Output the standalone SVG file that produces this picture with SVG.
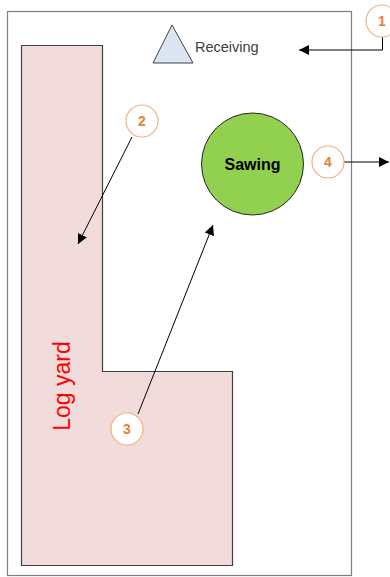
<svg xmlns="http://www.w3.org/2000/svg" width="390" height="577" viewBox="0 0 390 577">
  <style>
    .frame { fill: #ffffff; stroke: #7f7f7f; stroke-width: 1.2; }
    .yard { fill: #f2dcdb; stroke: #404040; stroke-width: 1.2; }
    .num { fill: #ffffff; stroke: #f4b183; stroke-width: 1.2; }
    .numtxt { font-family: "Liberation Sans", Arial, sans-serif; font-size: 14px; font-weight: bold; fill: #ed7d31; text-anchor: middle; }
    .conn { stroke: #000000; stroke-width: 1; fill: none; marker-end: url(#arrow); }
  </style>
  <defs>
    <marker id="arrow" viewBox="0 0 10 10" refX="10" refY="5" markerWidth="10" markerHeight="10" markerUnits="userSpaceOnUse" orient="auto">
      <path d="M0,0 L10,5 L0,10 z" fill="#000000"/>
    </marker>
  </defs>

  <!-- site boundary -->
  <rect class="frame" x="7.5" y="11.5" width="344" height="564"/>

  <!-- log yard -->
  <g id="log-yard">
    <polygon class="yard" points="21.5,45.5 102.5,45.5 102.5,371.5 232.5,371.5 232.5,565.5 21.5,565.5"/>
    <text x="0" y="0" transform="translate(70,386) rotate(-90)" font-family="Liberation Sans, Arial, sans-serif" font-size="23" fill="#ff0000" text-anchor="middle">Log yard</text>
  </g>

  <!-- receiving -->
  <g id="receiving">
    <polygon points="172,25 153,63 193,63" fill="#dce6f2" stroke="#404040" stroke-width="1"/>
    <text x="195" y="52" font-family="Liberation Sans, Arial, sans-serif" font-size="14.5" fill="#404040">Receiving</text>
  </g>

  <!-- sawing -->
  <g id="sawing">
    <circle cx="252.5" cy="164" r="51" fill="#92d050" stroke="#262626" stroke-width="1"/>
    <text x="252.5" y="169.5" font-family="Liberation Sans, Arial, sans-serif" font-size="16" font-weight="bold" fill="#000000" text-anchor="middle">Sawing</text>
  </g>

  <!-- connectors -->
  <g id="connectors">
    <polyline class="conn" points="382.5,37 382.5,50 299,50"/>
    <line class="conn" x1="132" y1="137" x2="78" y2="244"/>
    <line class="conn" x1="138" y1="414" x2="213" y2="225"/>
    <line class="conn" x1="344" y1="162" x2="389" y2="162"/>
  </g>

  <!-- numbered callouts -->
  <g id="callout-1">
    <circle class="num" cx="382" cy="21" r="16"/>
    <text class="numtxt" x="382" y="26">1</text>
  </g>
  <g id="callout-2">
    <circle class="num" cx="142" cy="121" r="16"/>
    <text class="numtxt" x="142" y="126">2</text>
  </g>
  <g id="callout-3">
    <circle class="num" cx="127" cy="429" r="16"/>
    <text class="numtxt" x="127" y="434">3</text>
  </g>
  <g id="callout-4">
    <circle class="num" cx="328" cy="162" r="16"/>
    <text class="numtxt" x="328" y="167">4</text>
  </g>
</svg>
